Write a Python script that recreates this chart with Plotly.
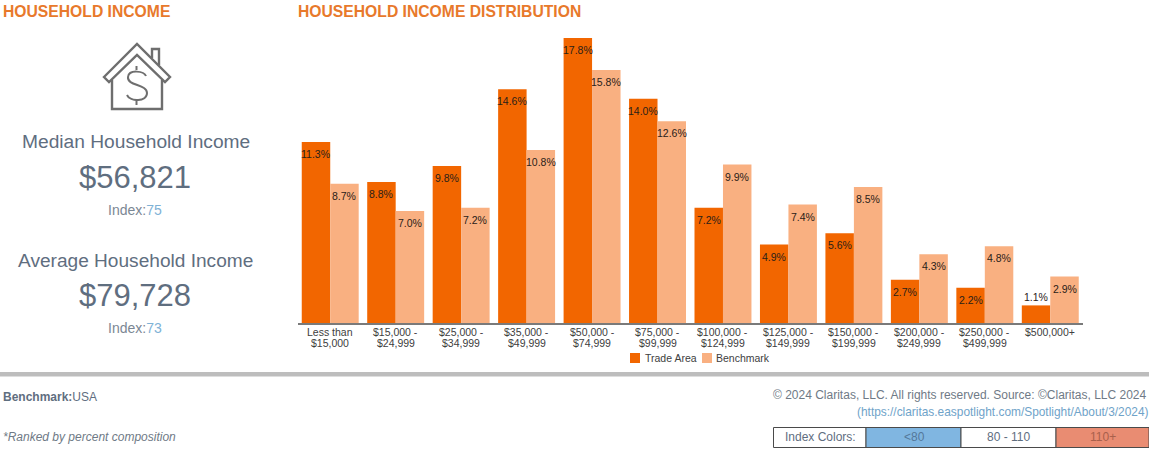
import plotly.graph_objects as go

W, H = 1149, 450

# Income bands and their shares of households (percent)
line_one = ["Less than", "$15,000 -", "$25,000 -", "$35,000 -", "$50,000 -", "$75,000 -",
            "$100,000 -", "$125,000 -", "$150,000 -", "$200,000 -", "$250,000 -", "$500,000+"]
line_two = ["$15,000", "$24,999", "$34,999", "$49,999", "$74,999", "$99,999",
            "$124,999", "$149,999", "$199,999", "$249,999", "$499,999", ""]
trade_area = [11.3, 8.8, 9.8, 14.6, 17.8, 14.0, 7.2, 4.9, 5.6, 2.7, 2.2, 1.1]
benchmark = [8.7, 7.0, 7.2, 10.8, 15.8, 12.6, 9.9, 7.4, 8.5, 4.3, 4.8, 2.9]
categories = [f"{a} {b}".strip() for a, b in zip(line_one, line_two)]

ORANGE = "#F26600"
PEACH = "#F9B081"
HEADING = "#E8792B"
SLATE = "#5F6E7F"
ICON = "#6E6E6E"
VALUE_INK = "#2A2118"
FONT = "Liberation Sans"


def px(x, y):
    return x / W, 1 - y / H


def label(x, y, text, size, color, anchor="center", **font):
    fx, fy = px(x, y)
    return dict(x=fx, y=fy, xref="paper", yref="paper", text=text, showarrow=False,
                xanchor=anchor, yanchor="middle", align=anchor,
                font=dict(family=FONT, size=size, color=color, **font))


def rect(x0, y0, x1, y1, fill, line=None):
    a, b = px(x0, y0)
    c, d = px(x1, y1)
    return dict(type="rect", xref="paper", yref="paper", x0=a, y0=b, x1=c, y1=d,
                fillcolor=fill, line=dict(color=line or fill, width=1 if line else 0), layer="below")


def outline(points, closed=False, width=2.4):
    coords = [px(*p) for p in points]
    path = "M" + " L".join(f"{a:.5f},{b:.5f}" for a, b in coords) + (" Z" if closed else "")
    return dict(type="path", xref="paper", yref="paper", path=path,
                line=dict(color=ICON, width=width))


def curve(start, *segments, width=2.0):
    """Stroke a chain of cubic Bezier segments, each given as three control points."""
    path = "M%.5f,%.5f" % px(*start)
    for seg in segments:
        path += " C" + " ".join("%.5f,%.5f" % px(*p) for p in seg)
    return dict(type="path", xref="paper", yref="paper", path=path,
                line=dict(color=ICON, width=width))


fig = go.Figure()
fig.add_bar(name="Trade Area", x=categories, y=trade_area, marker_color=ORANGE)
fig.add_bar(name="Benchmark", x=categories, y=benchmark, marker_color=PEACH)
fig.update_traces(marker_line_width=0, showlegend=False)

annotations = [
    label(1, 12, "HOUSEHOLD INCOME", 15.7, HEADING, "left", weight="bold"),
    label(296, 12, "HOUSEHOLD INCOME DISTRIBUTION", 15.7, HEADING, "left", weight="bold"),
    label(135.5, 141, "Median Household Income", 19.2, SLATE),
    label(134.5, 177, "$56,821", 31, SLATE),
    label(135, 210, "Index:<span style='color:#7FB2D6'>75</span>", 14, "#7B8794"),
    label(135.5, 260, "Average Household Income", 19.1, SLATE),
    label(135, 295, "$79,728", 31, SLATE),
    label(135, 328, "Index:<span style='color:#7FB2D6'>73</span>", 14, "#7B8794"),
    label(1, 397, "<b>Benchmark:</b>USA", 12, SLATE, "left"),
    label(1, 437, "<i>*Ranked by percent composition</i>", 12, "#6F7A86", "left"),
    label(1149, 395, "© 2024 Claritas, LLC. All rights reserved. Source: ©Claritas, LLC 2024", 12, "#6F7A86", "right"),
    label(1151, 412, "(https://claritas.easpotlight.com/Spotlight/About/3/2024)", 11.9, "#6FA3C9", "right"),
    label(820, 437, "Index Colors:", 12, SLATE),
    label(914, 437, "<80", 12, "#54789A"),
    label(1008, 437, "80 - 110", 12, SLATE),
    label(1103, 437, "110+", 12, "#A8604C"),
    label(643, 358, "Trade Area", 10.5, "#404040", "left"),
    label(714, 358, "Benchmark", 10.5, "#404040", "left"),
]

# Axis category labels: each line is placed separately for the tight leading
for cat, first, second in zip(categories, line_one, line_two):
    for text, row in ((first, 332), (second, 343)):
        if text:
            annotations.append(dict(x=cat, y=1 - row / H, xref="x", yref="paper", text=text,
                                    showarrow=False, xanchor="center", yanchor="middle",
                                    font=dict(family=FONT, size=10.5, color="#404040")))

# Value labels sit just under each bar's top; very short bars carry theirs above
for values, side in ((trade_area, -14.24), (benchmark, 14.24)):
    for cat, v in zip(categories, values):
        annotations.append(dict(x=cat, y=v, xref="x", yref="y", text=f"{v:.1f}%", showarrow=False,
                                xanchor="center", yanchor="middle", xshift=side,
                                yshift=8 if v < 2 else -12,
                                font=dict(family=FONT, size=10.5, color=VALUE_INK)))

shapes = [
    rect(0, 372, W, 376.5, "#BDBDBD"),
    rect(773.5, 427.5, 866, 447.5, "#FFFFFF", "#4A4A4A"),
    rect(866, 427.5, 961, 447.5, "#80B6E1", "#4A4A4A"),
    rect(961, 427.5, 1056, 447.5, "#FFFFFF", "#4A4A4A"),
    rect(1056, 427.5, 1149, 447.5, "#E98C72", "#4A4A4A"),
    # Legend swatches
    rect(630, 353, 640, 363, ORANGE),
    rect(702, 353, 712, 363, PEACH),
    # House icon: roof band, chimney and walls
    outline([(104, 77), (137, 44), (170, 77), (165, 82), (137, 55), (109, 82)], closed=True),
    outline([(152, 58), (152, 49), (159, 49), (159, 65)]),
    outline([(112, 80), (112, 109), (162, 109), (162, 80)]),
    # Dollar sign inside the house
    curve((146, 76), [(144, 71), (129, 69), (128, 77)], [(127, 86), (147, 84), (147, 93)],
          [(147, 102), (130, 102), (127, 95)]),
    outline([(136.5, 66), (136.5, 70)], width=2),
    outline([(136.5, 100), (136.5, 105)], width=2),
]

plot_top = 30
bottom = 323
fig.update_layout(
    width=W, height=H, margin=dict(l=0, r=0, t=0, b=0),
    paper_bgcolor="white", plot_bgcolor="white",
    barmode="group", bargap=0.13, bargroupgap=0,
    showlegend=False,
    font=dict(family=FONT, color="#404040"),
    xaxis=dict(domain=[297.5 / W, 1083 / W], type="category", showticklabels=False,
               showgrid=False, ticks="", showline=True, linecolor="#7A7A7A", linewidth=1.5),
    yaxis=dict(domain=[1 - bottom / H, 1 - plot_top / H], range=[0, (bottom - plot_top) / 16.01],
               visible=False),
    annotations=annotations, shapes=shapes,
)

fig.write_html("out.html")
